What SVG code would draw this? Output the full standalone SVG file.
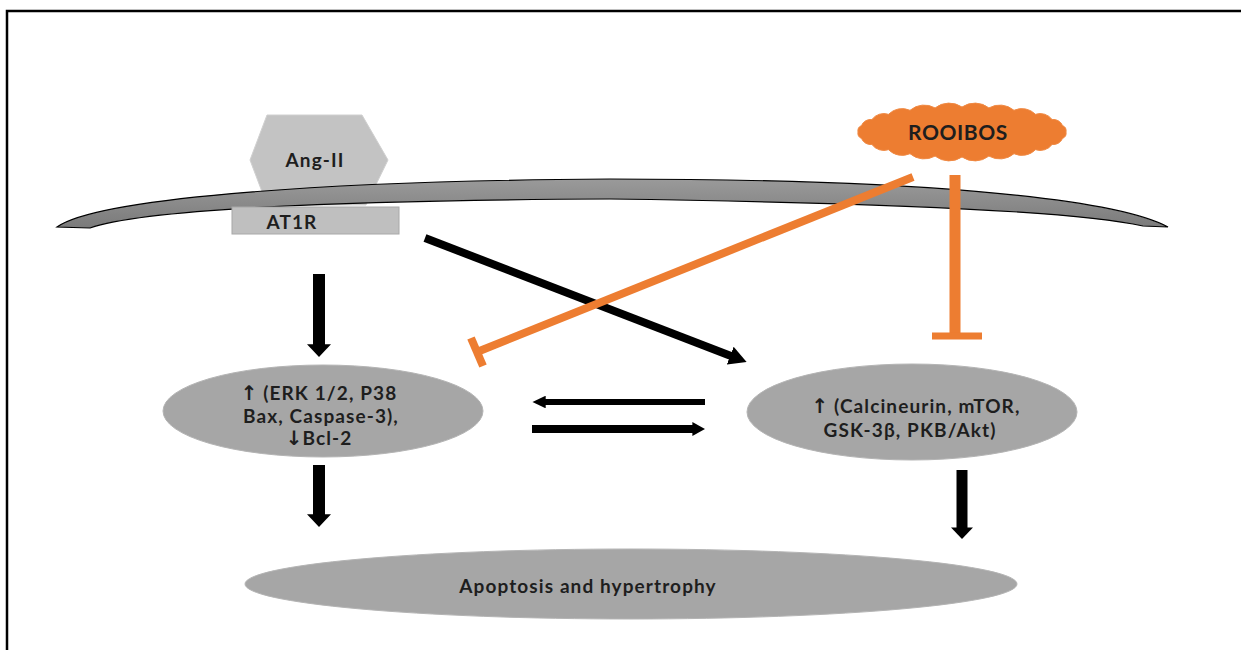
<svg xmlns="http://www.w3.org/2000/svg" width="1241" height="650" viewBox="0 0 1241 650">
  <style>
    .lbl { font-family: Lato, "Open Sans", "Liberation Sans", sans-serif; font-weight: 700; fill: #1e1e1e; text-anchor: middle; font-size: 19px; letter-spacing: 1.1px; }
    .big { font-size: 21px; letter-spacing: 0.6px; }
    .arw { font-family: "DejaVu Sans", sans-serif; font-weight: 700; font-size: 20px; letter-spacing: 0; }
    .oval { fill: #a6a6a6; stroke: #b4b4b4; stroke-width: 1; }
    .blk { stroke: #000000; fill: none; stroke-linecap: butt; }
    .org { stroke: #ed7d31; fill: none; stroke-linecap: butt; }
  </style>
  <defs>
    <marker id="headWide" viewBox="0 0 10 10" refX="0.5" refY="5" markerWidth="1.05" markerHeight="2" orient="auto" preserveAspectRatio="none">
      <path d="M0,0 L10,5 L0,10 z" fill="#000"/>
    </marker>
    <marker id="headDiag" viewBox="0 0 10 10" refX="0.5" refY="5" markerWidth="2.2" markerHeight="2.4" orient="auto" preserveAspectRatio="none">
      <path d="M0,0 L10,5 L0,10 z" fill="#000"/>
    </marker>
    <marker id="headThin" viewBox="0 0 10 10" refX="0.5" refY="5" markerWidth="2.2" markerHeight="2.1" orient="auto" preserveAspectRatio="none">
      <path d="M0,0 L10,5 L0,10 z" fill="#000"/>
    </marker>
    <marker id="headMid" viewBox="0 0 10 10" refX="0.5" refY="5" markerWidth="1.6" markerHeight="1.75" orient="auto" preserveAspectRatio="none">
      <path d="M0,0 L10,5 L0,10 z" fill="#000"/>
    </marker>
    <linearGradient id="memFill" x1="0" y1="0" x2="0" y2="1">
      <stop offset="0" stop-color="#9a9a9a"/>
      <stop offset="1" stop-color="#7a7a7a"/>
    </linearGradient>
  </defs>

  <rect width="1241" height="650" fill="#ffffff"/>
  <!-- frame -->
  <path d="M7,650 L7,11 L1241,11" fill="none" stroke="#000" stroke-width="2.5"/>

  <!-- ligand -->
  <g id="ang2">
    <polygon points="267,115 362,115 388,160 366,205 267,205 250,160" fill="#c3c3c3" stroke="#d0d0d0" stroke-width="1"/>
    <text class="lbl" x="315" y="167">Ang-II</text>
  </g>

  <!-- membrane -->
  <g id="membrane">
    <path d="M57,227 C95,200 300,181 610,179 C900,179 1110,196 1168,227 L1143,226 C1080,212 900,203 610,199 C330,200 140,210 90,228 Z" fill="url(#memFill)" stroke="#000" stroke-width="1.2"/>
  </g>

  <!-- receptor -->
  <g id="at1r">
    <rect x="232" y="207" width="167" height="27" fill="#bfbfbf" stroke="#a8a8a8" stroke-width="1"/>
    <text class="lbl" x="292" y="229">AT1R</text>
  </g>

  <!-- rooibos -->
  <g id="rooibos">
    <path d="M858,132 A6,6 0 0 1 861.5,125.5 A10,10 0 0 1 871.9,119.5 A15,15 0 0 1 888.5,114.3 A19,19 0 0 1 910,110.3 A22,22 0 0 1 935.1,107.9 A23,23 0 0 1 962,107 A23,23 0 0 1 988.9,107.9 A22,22 0 0 1 1014,110.3 A19,19 0 0 1 1035.5,114.3 A15,15 0 0 1 1052.1,119.5 A10,10 0 0 1 1062.5,125.5 A6,6 0 0 1 1066,132 A6,6 0 0 1 1062.5,138.5 A10,10 0 0 1 1052.1,144.5 A15,15 0 0 1 1035.5,149.7 A19,19 0 0 1 1014,153.7 A22,22 0 0 1 988.9,156.1 A23,23 0 0 1 962,157 A23,23 0 0 1 935.1,156.1 A22,22 0 0 1 910,153.7 A19,19 0 0 1 888.5,149.7 A15,15 0 0 1 871.9,144.5 A10,10 0 0 1 861.5,138.5 A6,6 0 0 1 858,132 Z" fill="#ed7d31" stroke="#f08a44" stroke-width="1"/>
    <text class="lbl big" x="958" y="140">ROOIBOS</text>
  </g>

  <!-- left pathway node -->
  <g id="mapk">
    <ellipse class="oval" cx="323" cy="411" rx="160" ry="46"/>
    <text class="lbl" x="319" y="400"><tspan class="arw">↑</tspan> (ERK 1/2, P38</text>
    <text class="lbl" x="321" y="422.5">Bax, Caspase-3),</text>
    <text class="lbl" x="319" y="445"><tspan class="arw">↓</tspan>Bcl-2</text>
  </g>

  <!-- right pathway node -->
  <g id="calcineurin">
    <ellipse class="oval" cx="912" cy="412" rx="165" ry="48"/>
    <text class="lbl" x="916" y="413"><tspan class="arw">↑</tspan> (Calcineurin, mTOR,</text>
    <text class="lbl" x="910" y="437">GSK-3β, PKB/Akt)</text>
  </g>

  <!-- outcome -->
  <g id="outcome">
    <ellipse class="oval" cx="631" cy="584" rx="386" ry="35"/>
    <text class="lbl" x="588" y="593">Apoptosis and hypertrophy</text>
  </g>

  <!-- connectors -->
  <g id="connectors">
    <line class="blk" x1="319" y1="274" x2="319" y2="345" stroke-width="12" marker-end="url(#headWide)"/>
    <line class="blk" x1="319" y1="465" x2="319" y2="515" stroke-width="12" marker-end="url(#headWide)"/>
    <line class="blk" x1="962" y1="470" x2="962" y2="528" stroke-width="11" marker-end="url(#headWide)"/>
    <line class="blk" x1="425" y1="238" x2="731" y2="356" stroke-width="8" marker-end="url(#headDiag)"/>
    <line class="blk" x1="705" y1="402" x2="545" y2="402" stroke-width="6" marker-end="url(#headThin)"/>
    <line class="blk" x1="532" y1="429" x2="693" y2="429" stroke-width="8" marker-end="url(#headMid)"/>
    <!-- inhibition from rooibos -->
    <line class="org" x1="913" y1="177" x2="477" y2="352" stroke-width="8"/>
    <line class="org" x1="471" y1="338" x2="483" y2="366" stroke-width="8"/>
    <line class="org" x1="955" y1="175" x2="955" y2="336" stroke-width="11"/>
    <line class="org" x1="932" y1="336" x2="982" y2="336" stroke-width="7"/>
  </g>
</svg>
